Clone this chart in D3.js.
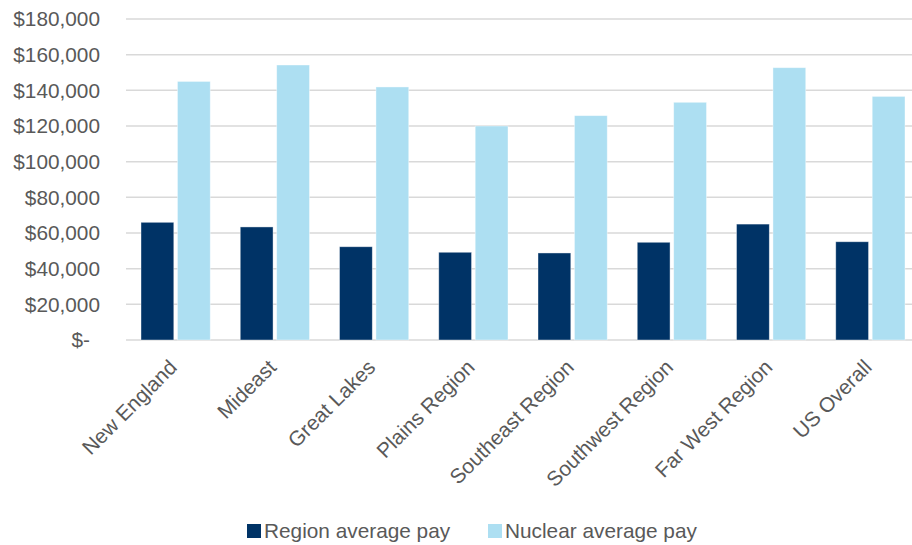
<!DOCTYPE html>
<html>
<head>
<meta charset="utf-8">
<script src="https://cdn.jsdelivr.net/npm/d3@7"></script>
<style>
  body { margin: 0; background: #fff; }
  svg text { font-family: "Liberation Sans", Arial, sans-serif; fill: #595959; }
</style>
</head>
<body>
<div class="chartBox"></div>
<script>
// chart data
var regions = ["New England", "Mideast", "Great Lakes", "Plains Region",
               "Southeast Region", "Southwest Region", "Far West Region", "US Overall"];
var seriesNames = ["Region average pay", "Nuclear average pay"];
var regionPay  = [66000, 63400, 52300, 49200, 48800, 54800, 65000, 55100];
var nuclearPay = [145000, 154200, 141900, 120000, 125800, 133300, 152700, 136600];
var yTicks = [0, 20000, 40000, 60000, 80000, 100000, 120000, 140000, 160000, 180000];

var W = 912, H = 545;
var colors = ["#003366", "#ADDFF2"];
var fontSize = 20.8;

var svg = d3.select(".chartBox").append("svg")
  .attr("width", W).attr("height", H);

var x = d3.scaleBand().domain(regions).range([126, 920]).paddingInner(0).paddingOuter(0);
var y = d3.scaleLinear().domain([0, 180000]).range([340, 19]);

// inner scale for the two bars in each band
var xInner = d3.scaleBand().domain(seriesNames)
  .range([15, x.bandwidth() - 15]).paddingInner(0.1);

var fmt = d3.format(",");

// gridlines
svg.append("g").selectAll("line")
  .data(yTicks)
  .enter().append("line")
  .attr("x1", 126).attr("x2", W)
  .attr("y1", function(d) { return y(d); })
  .attr("y2", function(d) { return y(d); })
  .style("stroke", "#d9d9d9")
  .style("stroke-width", 1.5);

// y labels
svg.append("g").selectAll("text")
  .data(yTicks)
  .enter().append("text")
  .attr("x", function(d) { return d === 0 ? 90 : 100; })
  .attr("y", function(d) { return y(d); })
  .attr("dy", "0.36em")
  .attr("text-anchor", "end")
  .style("font-size", fontSize + "px")
  .text(function(d) { return d === 0 ? "$-" : "$" + fmt(d); });

// bars
var rows = regions.map(function(r, i) {
  return { region: r, values: [regionPay[i], nuclearPay[i]] };
});

var groups = svg.append("g").selectAll("g")
  .data(rows)
  .enter().append("g")
  .attr("transform", function(d) { return "translate(" + x(d.region) + ",0)"; });

groups.selectAll("rect")
  .data(function(d) { return d.values.map(function(v, j) { return { name: seriesNames[j], value: v, j: j }; }); })
  .enter().append("rect")
  .attr("x", function(d) { return xInner(d.name); })
  .attr("width", xInner.bandwidth())
  .attr("y", function(d) { return y(d.value); })
  .attr("height", function(d) { return y(0) - y(d.value); })
  .style("fill", function(d) { return colors[d.j]; })
  .style("stroke", "#ffffff")
  .style("stroke-opacity", 0.5)
  .style("stroke-width", 0.8);

// category labels, rotated
svg.append("g").selectAll("text")
  .data(regions)
  .enter().append("text")
  .attr("transform", function(d) {
    return "translate(" + (x(d) + x.bandwidth() / 2 - 8) + ",358) rotate(-45)";
  })
  .attr("text-anchor", "end")
  .attr("dy", "0.72em")
  .style("font-size", fontSize + "px")
  .text(function(d) { return d; });

// legend
var legendPos = [247, 488];
var legend = svg.append("g").selectAll("g")
  .data(seriesNames)
  .enter().append("g")
  .attr("transform", function(d, i) { return "translate(" + legendPos[i] + ",524)"; });

legend.append("rect")
  .attr("width", 14).attr("height", 14)
  .style("fill", function(d, i) { return colors[i]; });

legend.append("text")
  .attr("x", 17).attr("y", 14)
  .style("font-size", fontSize + "px")
  .text(function(d) { return d; });
</script>
</body>
</html>
